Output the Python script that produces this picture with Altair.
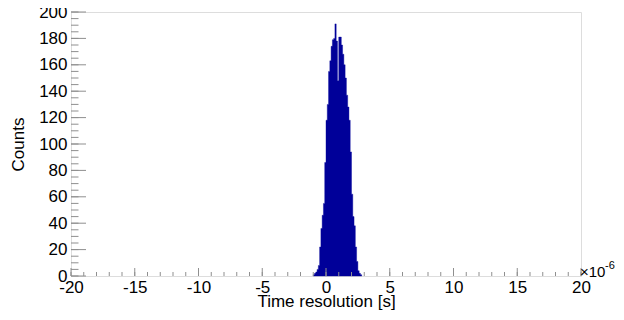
import altair as alt
import pandas as pd

# Histogram: bin width 0.1 (x10^-6 s), first bin starts at -1.0
bin_start = -1.0
bin_width = 0.1
counts = [1, 2, 3, 5, 8, 22, 36, 46, 55, 86, 118, 130, 155, 163, 174, 179, 180,
          191, 178, 148, 181, 181, 175, 168, 160, 150, 137, 128, 118, 94, 62, 45,
          38, 22, 11, 4, 2, 1]

x_major = [-20, -15, -10, -5, 0, 5, 10, 15, 20]
x_minor = list(range(-20, 21))
y_major = [0, 20, 40, 60, 80, 100, 120, 140, 160, 180, 200]
y_minor = list(range(0, 201, 5))

edges = [round(bin_start + i * bin_width, 4) for i in range(len(counts) + 1)]
hist = pd.DataFrame({"t": edges, "n": counts + [0]})

W, H = 510, 264
FONT = "Liberation Sans"
GRAY = "#8f8f8f"
LBL = "datum.value < 0 ? '-' + abs(datum.value) : '' + datum.value"

xscale = alt.Scale(domain=[-20, 20], nice=False, zero=False)
yscale = alt.Scale(domain=[0, 200], nice=False, zero=True)

xaxis = alt.Axis(values=x_major, ticks=False, domain=False, grid=False,
                 labelFont=FONT, labelFontSize=17, labelColor="black",
                 labelPadding=3, labelFlush=False, labelOverlap=False, labelExpr=LBL,
                 title="Time resolution [s]", titleFont=FONT, titleFontSize=17,
                 titleFontWeight="normal", titleColor="black",
                 titleX=W / 2, titleY=25, titleBaseline="middle", titleAlign="center")
yaxis = alt.Axis(values=y_major, ticks=False, domain=False, grid=False,
                 labelFont=FONT, labelFontSize=17, labelColor="black",
                 labelPadding=4, labelFlush=False, labelOverlap=False,
                 title="Counts", titleFont=FONT, titleFontSize=17,
                 titleFontWeight="normal", titleColor="black",
                 titleX=-53, titleY=H / 2, titleAlign="center", titleBaseline="middle")

area = alt.Chart(hist).mark_area(interpolate="step-after", color="#000099",
                                 stroke="#000099", strokeWidth=0.4).encode(
    x=alt.X("t:Q", scale=xscale, axis=xaxis),
    y=alt.Y("n:Q", scale=yscale, axis=yaxis),
)

def xticks(vals, length):
    return alt.Chart(pd.DataFrame({"t": vals})).mark_rule(color=GRAY, strokeWidth=1).encode(
        x=alt.X("t:Q", scale=xscale, axis=xaxis),
        y=alt.value(H), y2=alt.value(H - length))

def yticks(vals, length):
    return alt.Chart(pd.DataFrame({"n": vals})).mark_rule(color=GRAY, strokeWidth=1).encode(
        y=alt.Y("n:Q", scale=yscale, axis=yaxis),
        x=alt.value(0), x2=alt.value(length))

exp_base = alt.Chart(pd.DataFrame({"s": ["×10"]})).mark_text(
    font=FONT, fontSize=15, align="left", baseline="alphabetic", color="black").encode(
    text="s:N", x=alt.value(W - 1), y=alt.value(H + 1))
exp_sup = alt.Chart(pd.DataFrame({"s": ["-6"]})).mark_text(
    font=FONT, fontSize=11, align="left", baseline="alphabetic", color="black").encode(
    text="s:N", x=alt.value(W + 24), y=alt.value(H - 7))

chart = alt.layer(
    area,
    xticks(x_minor, 4), xticks(x_major, 8),
    yticks(y_minor, 7.5), yticks(y_major, 15),
    exp_base, exp_sup,
).properties(
    width=W, height=H,
    autosize=alt.AutoSizeParams(type="none"),
    padding={"left": 63, "top": 4, "right": 35, "bottom": 36},
).configure_view(stroke=GRAY, strokeWidth=1).configure(background="white")

chart.save("out.html", embed_options={"renderer": "svg", "actions": False})
